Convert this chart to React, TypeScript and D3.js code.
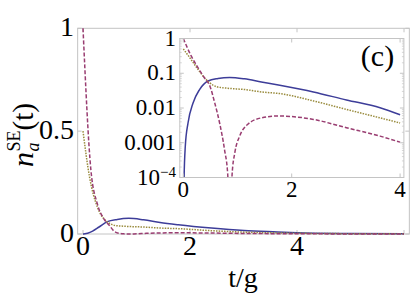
import React from "react";
import * as d3 from "d3";

// ---- data ----
const blueT = [0, 0.015, 0.037, 0.087, 0.18, 0.3, 0.456, 0.64, 0.856, 1.13, 1.44, 1.78, 2.4, 3.01, 3.63, 4.0, 5.0, 6.0];
const blueV = [0, 1.0e-4, 7.9e-4, 3.7e-3, 0.014, 0.034, 0.06, 0.071, 0.076, 0.069, 0.056, 0.045, 0.029, 0.017, 0.0102, 0.0064, 0.0025, 0.001];

const yellowT = [0, 0.12, 0.27, 0.39, 0.49, 0.61, 0.82, 1.13, 1.44, 1.78, 2.4, 3.01, 3.63, 4.0, 5.0, 6.0];
const yellowV = [0.5, 0.28, 0.13, 0.074, 0.053, 0.041, 0.037, 0.034, 0.029, 0.026, 0.016, 0.0091, 0.0052, 0.0037, 0.0015, 0.0006];

const magentaT = [0, 0.148, 0.27, 0.39, 0.49, 0.58, 0.67, 0.76, 0.82, 0.86, 0.9, 0.95, 1.04, 1.19, 1.44, 1.75, 2.4, 3.01, 3.63, 4.0, 5.0, 6.0];
const magentaV = [1, 0.31, 0.145, 0.074, 0.043, 0.014, 3.7e-3, 6.4e-4, 1.2e-4, 0, 1.2e-4, 5.1e-4, 1.55e-3, 3.4e-3, 5.2e-3, 5.9e-3, 4.7e-3, 2.7e-3, 1.55e-3, 1.04e-3, 4e-4, 1.5e-4];

const mainXTicks = [0, 2, 4];
const mainYTicks = [0, 0.5, 1];
const mainYLabels = ["0", "0.5", "1"];
const insetXTicks = [0, 2, 4];
const insetYTicks = [1e-4, 1e-3, 1e-2, 0.1, 1];
const insetYLabels = ["10|−4", "0.001", "0.01", "0.1", "1"];

const BLUE = "#3d3d99";
const MAGENTA = "#993d71";
const YELLOW = "#998b3d";
const FRAME = "#c4c4c4";
const SERIF = "Liberation Serif";

type P = [number, number];
const zip = (t: number[], v: number[]): P[] => t.map((x, i) => [x, v[i]]);

function T(props: any) {
  const { children, style, ...rest } = props;
  return (
    <text fontFamily={SERIF} fill="#000" {...rest} style={{ fontFamily: SERIF, ...(style || {}) }}>
      {children}
    </text>
  );
}

export default function App() {
  // main plot scales
  const xMain = d3.scaleLinear().domain([0, 6]).range([83, 404]);
  const yMain = d3.scaleLinear().domain([0, 1]).range([234, 28.3]);
  const mx0 = xMain(-0.1), mx1 = xMain(6.1), my0 = yMain(0), my1 = yMain(1);

  // inset scales
  const xIn = d3.scaleLinear().domain([0, 4]).range([183.3, 400.1]);
  const yIn = d3.scaleLog().domain([1e-4, 1]).range([177.5, 38.5]);
  const ix0 = xIn(-0.065), ix1 = xIn(4.07), iy0 = yIn(1e-4), iy1 = yIn(1);

  const lineMain = d3.line<P>().x(d => xMain(d[0])).y(d => yMain(d[1])).curve(d3.curveMonotoneX);
  const lineIn = d3.line<P>().x(d => xIn(d[0])).y(d => yIn(Math.max(d[1], 1e-6))).curve(d3.curveMonotoneX);

  const series = [
    { t: blueT, v: blueV, color: BLUE, dash: "none" },
    { t: yellowT, v: yellowV, color: YELLOW, dash: "1.5,1.2" },
    { t: magentaT, v: magentaV, color: MAGENTA, dash: "4,2" },
  ];

  const insetSeries = series.map(s => ({ ...s, pts: zip(s.t, s.v).filter(p => p[0] <= 4.1) }));

  const logMinor: number[] = [];
  for (let e = -4; e < 0; e++) for (let k = 2; k <= 9; k++) logMinor.push(k * Math.pow(10, e));

  return (
    <svg width={415} height={294} style={{ position: "absolute", left: 0, top: 0, background: "#fff" }}>
      <style>{`text { font-family: "Liberation Serif"; }`}</style>
      <defs>
        <clipPath id="clipMain">
          <rect x={mx0} y={my1 - 1.5} width={mx1 - mx0} height={my0 - my1 + 3} />
        </clipPath>
        <clipPath id="clipIn">
          <rect x={ix0} y={iy1 - 1} width={ix1 - ix0} height={iy0 - iy1 + 1} />
        </clipPath>
      </defs>

      {/* main frame */}
      <rect x={mx0} y={my1} width={mx1 - mx0} height={my0 - my1} fill="#fff" stroke={FRAME} strokeWidth={1} />
      {mainXTicks.concat([6]).map(v => (
        <g key={"mxt" + v}>
          <line x1={xMain(v)} x2={xMain(v)} y1={my0} y2={my0 - 4} stroke={FRAME} />
          <line x1={xMain(v)} x2={xMain(v)} y1={my1} y2={my1 + 4} stroke={FRAME} />
        </g>
      ))}
      {mainYTicks.map(v => (
        <g key={"myt" + v}>
          <line x1={mx0} x2={mx0 + 4} y1={yMain(v)} y2={yMain(v)} stroke={FRAME} />
          <line x1={mx1} x2={mx1 - 4} y1={yMain(v)} y2={yMain(v)} stroke={FRAME} />
        </g>
      ))}

      <g clipPath="url(#clipMain)">
        {series.map((s, i) => (
          <path key={"m" + i} d={lineMain(zip(s.t, s.v)) || ""} fill="none" stroke={s.color} strokeWidth={1.5}
            strokeDasharray={s.dash} />
        ))}
      </g>

      {/* main tick labels */}
      {mainXTicks.map(v => (
        <T key={"mxl" + v} x={xMain(v)} y={255} fontSize={28} textAnchor="middle">{String(v)}</T>
      ))}
      {mainYTicks.map((v, i) => (
        <T key={"myl" + v} x={74} y={yMain(v) + 7.5} fontSize={28} textAnchor="end">{mainYLabels[i]}</T>
      ))}
      <T x={243} y={287} fontSize={28} textAnchor="middle">t/g</T>

      {/* y axis label */}
      <g transform="translate(33,133.5) rotate(-90)">
        <T x={-33.5} y={0} fontSize={30} fontStyle="italic">n</T>
        <T x={-18} y={6} fontSize={18} fontStyle="italic">a</T>
        <T x={-18} y={-13} fontSize={18}>SE</T>
        <T x={3} y={0} fontSize={29}>(t)</T>
      </g>

      {/* inset */}
      <rect x={ix0} y={iy1} width={ix1 - ix0} height={iy0 - iy1} fill="#fff" stroke="none" />
      <g clipPath="url(#clipIn)">
        {insetSeries.map((s, i) => (
          <path key={"i" + i} d={lineIn(s.pts) || ""} fill="none" stroke={s.color} strokeWidth={1.5}
            strokeDasharray={s.dash} />
        ))}
      </g>
      <rect x={ix0} y={iy1} width={ix1 - ix0} height={iy0 - iy1} fill="none" stroke={FRAME} strokeWidth={1} />
      {insetXTicks.map(v => (
        <g key={"ixt" + v}>
          <line x1={xIn(v)} x2={xIn(v)} y1={iy0} y2={iy0 - 4} stroke={FRAME} />
          <line x1={xIn(v)} x2={xIn(v)} y1={iy1} y2={iy1 + 4} stroke={FRAME} />
        </g>
      ))}
      {insetYTicks.map(v => (
        <g key={"iyt" + v}>
          <line x1={ix0} x2={ix0 + 4} y1={yIn(v)} y2={yIn(v)} stroke={FRAME} />
          <line x1={ix1} x2={ix1 - 4} y1={yIn(v)} y2={yIn(v)} stroke={FRAME} />
        </g>
      ))}
      {logMinor.map(v => (
        <g key={"iym" + v}>
          <line x1={ix0} x2={ix0 + 2} y1={yIn(v)} y2={yIn(v)} stroke={FRAME} strokeWidth={0.7} />
          <line x1={ix1} x2={ix1 - 2} y1={yIn(v)} y2={yIn(v)} stroke={FRAME} strokeWidth={0.7} />
        </g>
      ))}
      {insetXTicks.map(v => (
        <T key={"ixl" + v} x={xIn(v)} y={197} fontSize={23} textAnchor="middle">{String(v)}</T>
      ))}
      {insetYTicks.map((v, i) => {
        const lab = insetYLabels[i];
        if (lab.includes("|")) {
          const [base, exp] = lab.split("|");
          return (
            <T key={"iyl" + v} x={176} y={yIn(v) + 7} fontSize={23} textAnchor="end">
              {base}
              <tspan fontSize={15} dy={-8}>{exp}</tspan>
            </T>
          );
        }
        return (
          <T key={"iyl" + v} x={176} y={yIn(v) + 7} fontSize={23} textAnchor="end">{lab}</T>
        );
      })}
      <T x={377.5} y={65.5} fontSize={30} textAnchor="middle">(c)</T>
    </svg>
  );
}
